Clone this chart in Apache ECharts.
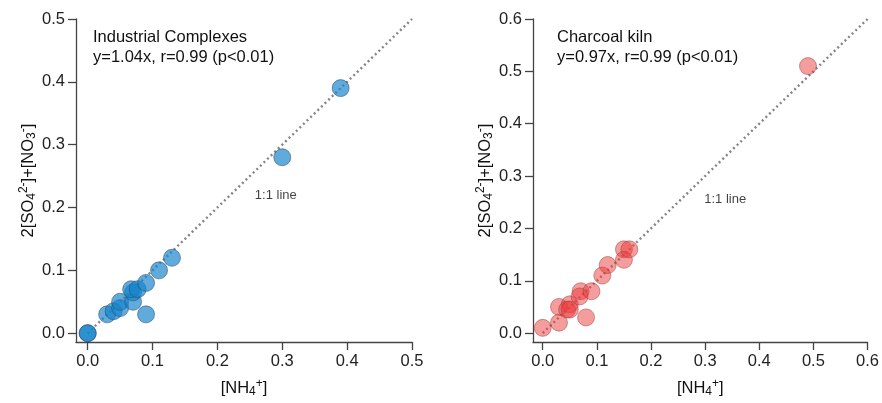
<!DOCTYPE html>
<html>
<head>
<meta charset="utf-8">
<script src="https://cdn.jsdelivr.net/npm/echarts@6/dist/echarts.min.js"></script>
<style>
  html, body { margin: 0; padding: 0; background: #fff; }
  #main { width: 882px; height: 403px; }
</style>
</head>
<body>
<div id="main"></div>
<script type="text/javascript">
// data
var industrialX = [0, 0, 0.03, 0.04, 0.05, 0.05, 0.07, 0.07, 0.067, 0.077, 0.09, 0.09, 0.11, 0.13, 0.30, 0.39];
var industrialY = [0, 0, 0.03, 0.035, 0.04, 0.05, 0.05, 0.065, 0.07, 0.07, 0.08, 0.03, 0.10, 0.12, 0.28, 0.39];
var charcoalX = [0, 0.03, 0.03, 0.05, 0.045, 0.05, 0.07, 0.068, 0.09, 0.08, 0.11, 0.12, 0.15, 0.15, 0.16, 0.49];
var charcoalY = [0.01, 0.02, 0.05, 0.055, 0.045, 0.045, 0.08, 0.07, 0.08, 0.03, 0.11, 0.13, 0.16, 0.14, 0.16, 0.51];
var ticksL = [0, 0.1, 0.2, 0.3, 0.4, 0.5];
var ticksR = [0, 0.1, 0.2, 0.3, 0.4, 0.5, 0.6];
var lineL = [[0, 0], [0.5, 0.5]];
var lineR = [[0, 0], [0.6, 0.6]];
var lineLabelL = [0.29, 0.22];
var lineLabelR = [0.337, 0.256];

var FONT = 'Liberation Sans, Arial, sans-serif';

function pairs(xs, ys) {
    var out = [];
    for (var i = 0; i < xs.length; i++) out.push([xs[i], ys[i]]);
    return out;
}

var richName = {
    n: { fontSize: 16.5, fontFamily: FONT, color: '#111' },
    sub: { fontSize: 12, fontFamily: FONT, color: '#111', padding: [7, 0, 0, 0] },
    sup: { fontSize: 12, fontFamily: FONT, color: '#111', padding: [0, 0, 9, 0] }
};

function xAxis(idx, ticks) {
    return {
        type: 'value', gridIndex: idx,
        min: -0.018, max: ticks[ticks.length - 1],
        splitLine: { show: false },
        axisLine: { show: true, onZero: false, lineStyle: { color: '#444', width: 1.3 } },
        axisTick: { show: true, length: 8, customValues: ticks, lineStyle: { color: '#444', width: 1.3 } },
        axisLabel: {
            customValues: ticks, margin: 11, fontSize: 16.5, fontFamily: FONT, color: '#222',
            formatter: function (v) { return v.toFixed(1); }
        },
        name: '{n|[NH}{sub|4}{sup|+}{n|]}',
        nameLocation: 'middle', nameGap: 36,
        nameTextStyle: { rich: richName }
    };
}

function yAxis(idx, ticks, ymin) {
    return {
        type: 'value', gridIndex: idx,
        min: ymin, max: ticks[ticks.length - 1],
        splitLine: { show: false },
        axisLine: { show: true, onZero: false, lineStyle: { color: '#444', width: 1.3 } },
        axisTick: { show: true, length: 8, customValues: ticks, lineStyle: { color: '#444', width: 1.3 } },
        axisLabel: {
            customValues: ticks, margin: 11, fontSize: 16.5, fontFamily: FONT, color: '#222',
            formatter: function (v) { return v.toFixed(1); }
        },
        name: '{n|2[SO}{sub|4}{sup|2-}{n|]+[NO}{sub|3}{sup|-}{n|]}',
        nameLocation: 'middle', nameGap: 37,
        nameTextStyle: { rich: richName }
    };
}

function oneLine(idx, data) {
    return {
        type: 'line', xAxisIndex: idx, yAxisIndex: idx, data: data,
        symbol: 'none', silent: true, z: 1,
        lineStyle: { color: '#858585', width: 2.4, type: [2, 3] }
    };
}

function lineText(idx, pos) {
    return {
        type: 'scatter', xAxisIndex: idx, yAxisIndex: idx, data: [pos],
        symbolSize: 0, silent: true,
        label: { show: true, position: 'inside', formatter: '1:1 line', fontSize: 13, fontFamily: FONT, color: '#111' }
    };
}

var myChart = echarts.init(document.getElementById('main'));

var option = {
    animation: false,
    grid: [
        { left: 76, top: 19, width: 336, height: 324 },
        { left: 533, top: 19, width: 336, height: 324 }
    ],
    xAxis: [xAxis(0, ticksL), xAxis(1, ticksR)],
    yAxis: [yAxis(0, ticksL, -0.014), yAxis(1, ticksR, -0.017)],
    graphic: [
        { type: 'text', left: 93, top: 29, style: { text: 'Industrial Complexes', font: '16.5px ' + FONT, fill: '#111' } },
        { type: 'text', left: 93, top: 49, style: { text: 'y=1.04x, r=0.99 (p<0.01)', font: '16.5px ' + FONT, fill: '#111' } },
        { type: 'text', left: 557, top: 29, style: { text: 'Charcoal kiln', font: '16.5px ' + FONT, fill: '#111' } },
        { type: 'text', left: 557, top: 49, style: { text: 'y=0.97x, r=0.99 (p<0.01)', font: '16.5px ' + FONT, fill: '#111' } }
    ],
    series: [
        oneLine(0, lineL),
        oneLine(1, lineR),
        {
            type: 'scatter', xAxisIndex: 0, yAxisIndex: 0, z: 3,
            data: pairs(industrialX, industrialY),
            symbolSize: 17,
            itemStyle: { color: 'rgba(22,132,204,0.85)', borderColor: 'rgba(40,75,105,0.85)', borderWidth: 0.8 }
        },
        {
            type: 'scatter', xAxisIndex: 1, yAxisIndex: 1, z: 3,
            data: pairs(charcoalX, charcoalY),
            symbolSize: 17,
            itemStyle: { color: 'rgba(235,60,60,0.63)', borderColor: 'rgba(150,60,60,0.75)', borderWidth: 0.8 }
        },
        lineText(0, lineLabelL),
        lineText(1, lineLabelR)
    ]
};

myChart.setOption(option);
</script>
</body>
</html>
